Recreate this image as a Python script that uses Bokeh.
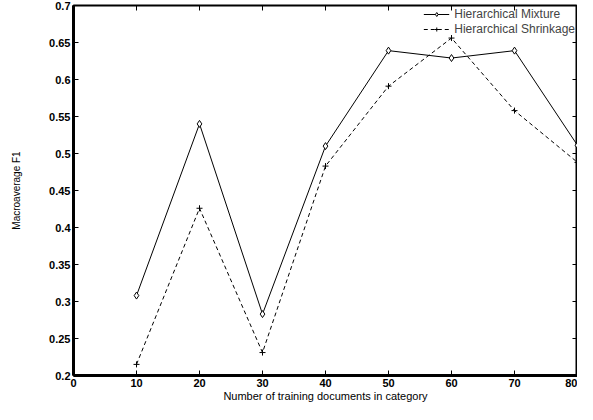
from bokeh.plotting import figure
from bokeh.models import FixedTicker, LinearAxis, Legend, LegendItem
from bokeh.embed import file_html
from bokeh.resources import INLINE

docs = [10, 20, 30, 40, 50, 60, 70, 80]
mixture = [0.308, 0.540, 0.283, 0.510, 0.639, 0.629, 0.639, 0.511]
shrinkage = [0.215, 0.426, 0.231, 0.483, 0.591, 0.656, 0.558, 0.488]
x_ticks = [0, 10, 20, 30, 40, 50, 60, 70, 80]
y_ticks = [0.2, 0.25, 0.3, 0.35, 0.4, 0.45, 0.5, 0.55, 0.6, 0.65, 0.7]
y_tick_labels = ["0.2", "0.25", "0.3", "0.35", "0.4", "0.45", "0.5", "0.55", "0.6", "0.65", "0.7"]
series_names = ["Hierarchical Mixture", "Hierarchical Shrinkage"]

FONT = "Liberation Sans"

p = figure(width=577, height=404, x_range=(0, 80), y_range=(0.2, 0.7),
           output_backend="svg", toolbar_location=None,
           min_border_left=73, min_border_right=0, min_border_top=5, min_border_bottom=0)
p.grid.visible = False
p.outline_line_color = "black"
p.outline_line_width = 2

for ax in (p.xaxis[0], p.yaxis[0]):
    ax.major_tick_in = 5
    ax.major_tick_out = 0
    ax.minor_tick_in = 0
    ax.minor_tick_out = 0
    ax.axis_line_width = 3
    ax.axis_line_color = "black"
    ax.major_tick_line_color = "black"
    ax.major_label_text_font = FONT
    ax.major_label_text_font_size = "11px"
    ax.major_label_text_font_style = "bold"
    ax.major_label_text_color = "black"
    ax.axis_label_text_font = FONT
    ax.axis_label_text_font_style = "normal"
    ax.axis_label_text_color = "black"

p.xaxis[0].ticker = FixedTicker(ticks=x_ticks)
p.yaxis[0].ticker = FixedTicker(ticks=y_ticks)
p.yaxis[0].major_label_overrides = {t: s for t, s in zip(y_ticks, y_tick_labels)}
p.xaxis[0].axis_label = "Number of training documents in category"
p.yaxis[0].axis_label = "Macroaverage F1"
p.xaxis[0].axis_label_text_font_size = "11px"
p.yaxis[0].axis_label_text_font_size = "10px"
p.xaxis[0].major_label_standoff = 3
p.xaxis[0].axis_label_standoff = 0
p.yaxis[0].major_label_standoff = 3
p.yaxis[0].axis_label_standoff = 24

# mirrored tick axes (right, top)
for loc, tk in (("right", y_ticks), ("above", x_ticks)):
    a = LinearAxis(ticker=FixedTicker(ticks=tk), major_tick_in=5, major_tick_out=0,
                   minor_tick_in=0, minor_tick_out=0, major_label_text_alpha=0,
                   major_label_text_font_size="0px", axis_line_color=None,
                   major_label_standoff=0,
                   major_label_overrides={t: "" for t in tk})
    p.add_layout(a, loc)

l1 = p.line(docs, mixture, line_color="black", line_width=1)
m1 = p.scatter(docs, mixture, marker="diamond", size=7, fill_color="white",
               line_color="black", line_width=1)
l2 = p.line(docs, shrinkage, line_color="black", line_width=1, line_dash="4 3")
m2 = p.scatter(docs, shrinkage, marker="cross", size=6, line_color="black", line_width=1)

legend = Legend(items=[LegendItem(label=series_names[0], renderers=[l1, m1]),
                       LegendItem(label=series_names[1], renderers=[l2, m2])],
                location="top_right", border_line_color=None, background_fill_alpha=0,
                label_text_font=FONT, label_text_font_size="12px",
                label_height=10, glyph_height=10, glyph_width=26, spacing=1,
                padding=1, margin=2, label_standoff=5)
p.add_layout(legend)

open("out.html", "w").write(file_html(p, INLINE))
